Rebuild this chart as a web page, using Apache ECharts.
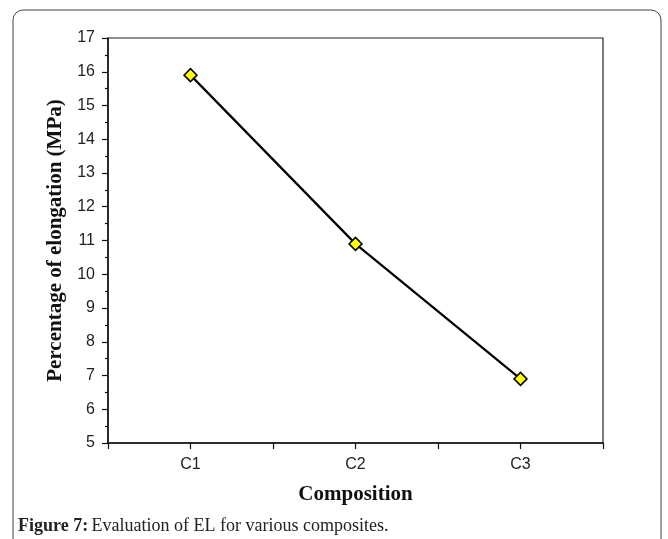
<!DOCTYPE html>
<html><head><meta charset="utf-8">
<script src="https://cdn.jsdelivr.net/npm/echarts@6/dist/echarts.min.js"></script>
<style>html,body{margin:0;padding:0;background:#fff}#c{width:668px;height:539px}</style>
</head><body><div id="c"></div>
<script>
const categories = ['C1', 'C2', 'C3'];
const elongation = [15.9, 10.9, 6.9];
const yTicks = [5, 6, 7, 8, 9, 10, 11, 12, 13, 14, 15, 16, 17];

const chart = echarts.init(document.getElementById('c'));
const data = categories.map((c, i) => [i + 1, elongation[i]]);
chart.setOption({
  animation: false,
  grid: {left: 108, right: 65, top: 38, bottom: 96, show: true, borderColor: '#222', borderWidth: 1.2, backgroundColor: 'transparent'},
  graphic: [
    {type: 'rect', shape: {x: 13, y: 10, width: 648, height: 560, r: 10}, style: {fill: 'none', stroke: '#444', lineWidth: 1}, z: -1},
    {type: 'text', left: 18, top: 517, style: {rich: {b: {fontFamily: 'Liberation Serif', fontWeight: 'bold', fontSize: 18, fill: '#222'}, n: {fontFamily: 'Liberation Serif', fontSize: 18, fill: '#222'}}, text: '{b|Figure 7:} {n|Evaluation of EL for various composites.}'}}
  ],
  xAxis: {
    type: 'value', min: 0.5, max: 3.5, interval: 0.5,
    name: 'Composition', nameLocation: 'middle', nameGap: 41,
    nameTextStyle: {fontFamily: 'Liberation Serif', fontWeight: 'bold', fontSize: 21, color: '#111'},
    axisLine: {lineStyle: {color: '#111', width: 1.5}},
    axisTick: {show: true, length: 6, inside: false, lineStyle: {color: '#111', width: 1.2}},
    splitLine: {show: false},
    axisLabel: {fontFamily: 'Liberation Sans', fontSize: 16, color: '#222', margin: 14,
      formatter: v => Number.isInteger(v) ? categories[v - 1] : ''}
  },
  yAxis: {
    type: 'value', min: yTicks[0], max: yTicks[yTicks.length - 1], interval: 1,
    name: 'Percentage of elongation (MPa)', nameLocation: 'middle', nameGap: 37,
    nameTextStyle: {fontFamily: 'Liberation Serif', fontWeight: 'bold', fontSize: 21, color: '#111'},
    axisLine: {show: true, lineStyle: {color: '#111', width: 1.5}},
    axisTick: {show: true, length: 6, lineStyle: {color: '#111', width: 1.2}},
    minorTick: {show: true, splitNumber: 2, length: 3, lineStyle: {color: '#111', width: 1.2}},
    splitLine: {show: false},
    axisLabel: {fontFamily: 'Liberation Sans', fontSize: 16, color: '#222', margin: 13}
  },
  series: [{
    type: 'line', data: data,
    lineStyle: {color: '#000', width: 2.2},
    symbol: 'diamond', symbolSize: 13,
    itemStyle: {color: '#ffff00', borderColor: '#000', borderWidth: 1.5}
  }]
});
</script></body></html>
